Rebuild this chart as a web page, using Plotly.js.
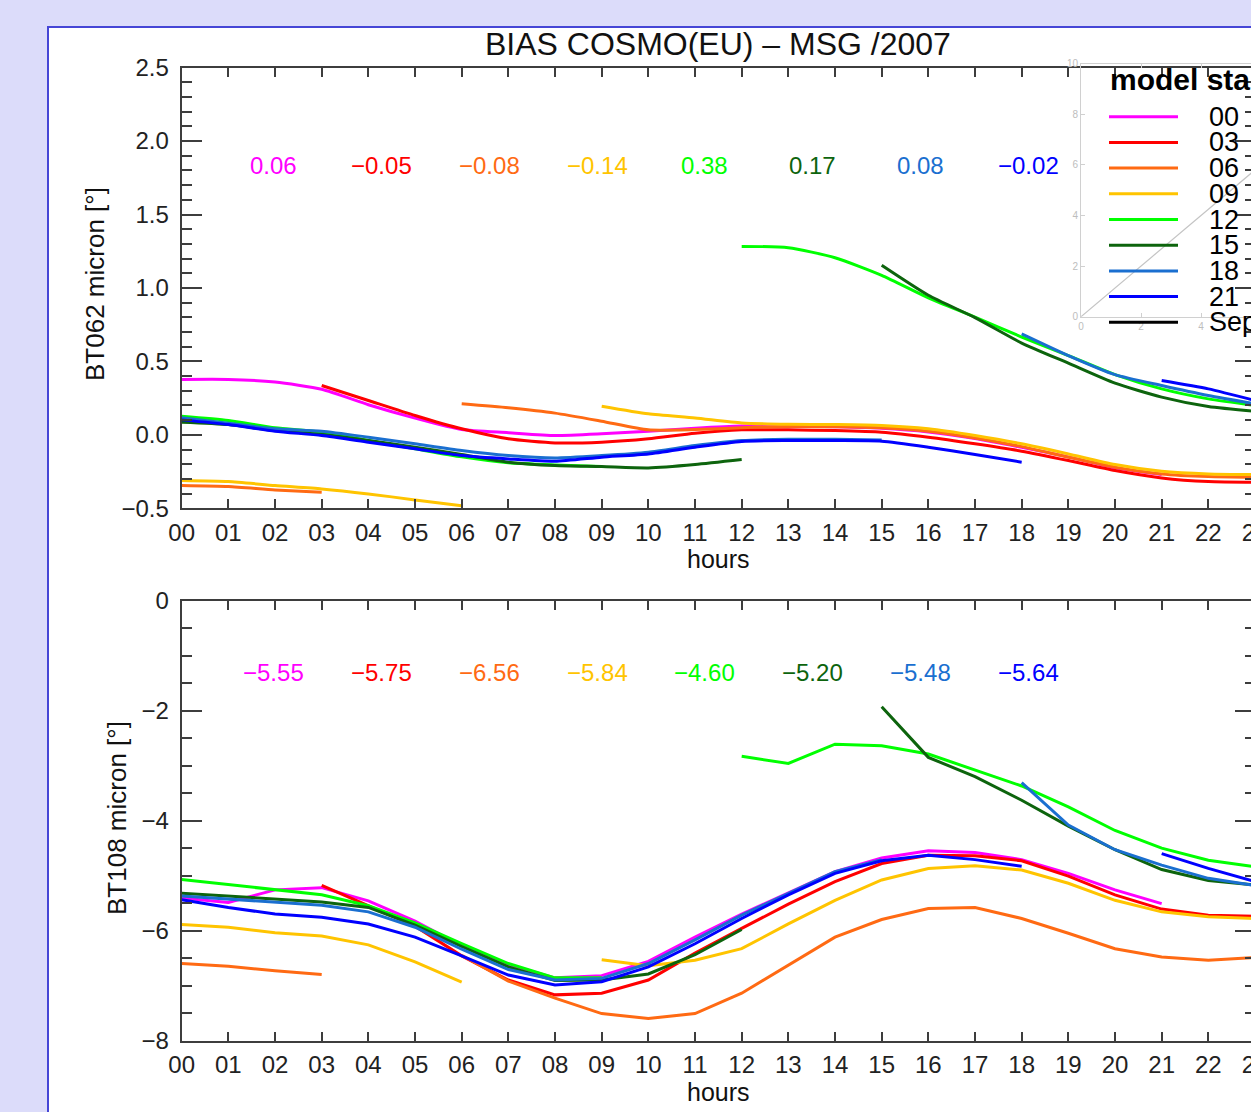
<!DOCTYPE html>
<html><head><meta charset="utf-8">
<script src="https://cdn.plot.ly/plotly-3.0.1.min.js"></script>
<style>
html,body{margin:0;padding:0;background:#dcdcfa;overflow:hidden;width:1251px;height:1112px;}
#frame{position:absolute;left:47px;top:26px;border:2px solid #4646d6;background:#fff;width:1400px;height:1150px;}
#chart{width:1400px;height:1150px;}
</style></head><body>
<div id="frame"><div id="chart"></div></div>
<script>
// ---------------- data ----------------
const hours = [0,1,2,3,4,5,6,7,8,9,10,11,12,13,14,15,16,17,18,19,20,21,22,23];
const hourLabels = ['00','01','02','03','04','05','06','07','08','09','10','11','12','13','14','15','16','17','18','19','20','21','22','23'];
const runNames = ['00','03','06','09','12','15','18','21'];
const runColors = ['#ff00ff','#ff0000','#ff6a13','#ffc400','#00ff00','#0d640d','#1a6fd0','#0000ff'];

// BT062 bias per model run (hour of day 00..23, null = no data)
const bt062_run00 = [0.377,0.377,0.359,0.31,0.205,0.114,0.036,0.015,-0.005,0.007,0.025,0.045,0.06,0.062,0.055,0.045,0.02,-0.025,-0.085,-0.15,-0.225,-0.27,null,null];
const bt062_run03 = [null,null,null,0.336,0.234,0.132,0.041,-0.027,-0.055,-0.05,-0.027,0.011,0.034,0.034,0.029,0.018,-0.016,-0.061,-0.111,-0.175,-0.243,-0.293,-0.318,-0.323];
const bt062_run06 = [-0.345,-0.352,-0.375,-0.391,null,null,0.211,0.184,0.148,0.093,0.034,0.036,0.048,0.057,0.055,0.048,0.025,-0.021,-0.08,-0.152,-0.22,-0.266,-0.284,-0.289];
const bt062_run09 = [-0.311,-0.318,-0.345,-0.368,-0.402,-0.443,-0.482,null,null,0.195,0.143,0.115,0.081,0.072,0.07,0.064,0.041,-0.005,-0.061,-0.13,-0.202,-0.248,-0.266,-0.27];
const bt062_run12 = [0.127,0.098,0.048,0.018,-0.039,-0.095,-0.15,-0.19,-0.205,-0.215,null,null,1.283,1.274,1.206,1.086,0.933,0.802,0.666,0.54,0.41,0.313,0.245,0.2];
const bt062_run15 = [0.086,0.07,0.029,0.002,-0.039,-0.084,-0.134,-0.186,-0.209,-0.216,-0.225,-0.202,-0.168,null,null,1.154,0.95,0.798,0.625,0.488,0.352,0.257,0.193,0.161];
const bt062_run18 = [0.116,0.079,0.041,0.025,-0.016,-0.061,-0.107,-0.141,-0.157,-0.141,-0.118,-0.073,-0.039,-0.03,-0.03,-0.035,null,null,0.688,0.54,0.41,0.336,0.268,0.211];
const bt062_run21 = [0.102,0.07,0.025,-0.005,-0.05,-0.095,-0.141,-0.164,-0.18,-0.152,-0.13,-0.084,-0.045,-0.039,-0.039,-0.043,-0.084,-0.134,-0.186,null,null,0.37,0.313,0.234];

// BT108 bias per model run
const bt108_run00 = [-5.41,-5.49,-5.26,-5.22,-5.46,-5.83,-6.28,-6.62,-6.86,-6.82,-6.56,-6.12,-5.70,-5.32,-4.93,-4.68,-4.55,-4.58,-4.71,-4.96,-5.26,-5.51,null,null];
const bt108_run03 = [null,null,null,-5.18,-5.55,-5.92,-6.46,-6.90,-7.17,-7.14,-6.90,-6.41,-5.96,-5.52,-5.11,-4.78,-4.63,-4.64,-4.73,-5.01,-5.35,-5.61,-5.72,-5.74];
const bt108_run06 = [-6.60,-6.65,-6.73,-6.80,null,null,-6.45,-6.92,-7.23,-7.51,-7.60,-7.51,-7.14,-6.63,-6.12,-5.80,-5.60,-5.58,-5.78,-6.05,-6.33,-6.48,-6.54,-6.49];
const bt108_run09 = [-5.89,-5.94,-6.04,-6.10,-6.26,-6.57,-6.94,null,null,-6.53,-6.64,-6.54,-6.33,-5.88,-5.45,-5.08,-4.87,-4.82,-4.90,-5.14,-5.45,-5.66,-5.75,-5.78];
const bt108_run12 = [-5.07,-5.16,-5.26,-5.35,-5.55,-5.86,-6.24,-6.60,-6.86,-6.86,null,null,-2.83,-2.96,-2.61,-2.64,-2.79,-3.08,-3.37,-3.75,-4.18,-4.50,-4.72,-4.84];
const bt108_run15 = [-5.32,-5.37,-5.42,-5.48,-5.58,-5.90,-6.29,-6.66,-6.91,-6.90,-6.79,-6.44,-5.98,null,null,-1.93,-2.85,-3.20,-3.63,-4.10,-4.53,-4.89,-5.09,-5.17];
const bt108_run18 = [-5.37,-5.43,-5.48,-5.54,-5.66,-5.94,-6.34,-6.71,-6.90,-6.87,-6.60,-6.17,-5.72,-5.32,-4.93,-4.71,null,null,-3.31,-4.08,-4.53,-4.81,-5.05,-5.18];
const bt108_run21 = [-5.44,-5.58,-5.70,-5.76,-5.88,-6.12,-6.46,-6.81,-6.99,-6.93,-6.66,-6.24,-5.78,-5.35,-4.96,-4.73,-4.63,-4.71,-4.83,null,null,-4.60,-4.87,-5.11];

// mean bias printed above each panel
const meanBT062 = [0.06,-0.05,-0.08,-0.14,0.38,0.17,0.08,-0.02];
const meanBT108 = [-5.55,-5.75,-6.56,-5.84,-4.60,-5.20,-5.48,-5.64];

// legend
const legendLabels = ['00','03','06','09','12','15','18','21','Sep'];
const legendColors = runColors.concat(['#000000']);

// faint inset plot behind the legend
const insetX = [0,10];
const insetY = [0,10];

// ---------------- layout helpers ----------------
const W=1400, H=1150, OX=49, OY=28;
const px = x => (x-OX)/W;
const py = y => 1-(y-OY)/H;
const FONT = 'Liberation Sans, Arial, Helvetica, sans-serif';
const AX = '#3d3d3d';

const bt062 = [bt062_run00,bt062_run03,bt062_run06,bt062_run09,bt062_run12,bt062_run15,bt062_run18,bt062_run21];
const bt108 = [bt108_run00,bt108_run03,bt108_run06,bt108_run09,bt108_run12,bt108_run15,bt108_run18,bt108_run21];

const traces = [];
runNames.forEach((r,i)=>{
  traces.push({x:hours,y:bt062[i],xaxis:'x',yaxis:'y',mode:'lines',name:r,showlegend:false,connectgaps:false,
    line:{color:runColors[i],width:3,shape:'spline',smoothing:0.6}});
});
runNames.forEach((r,i)=>{
  traces.push({x:hours,y:bt108[i],xaxis:'x2',yaxis:'y2',mode:'lines',name:r,showlegend:false,connectgaps:false,
    line:{color:runColors[i],width:3}});
});
traces.push({x:insetX,y:insetY,xaxis:'x3',yaxis:'y3',mode:'lines',showlegend:false,line:{color:'#c4c4c4',width:1.2}});

const base = {showline:true,linecolor:AX,linewidth:2,mirror:'ticks',ticks:'inside',tickcolor:AX,tickwidth:2,
  showgrid:false,zeroline:false,tickfont:{family:FONT,size:24,color:'#222'}};
const xdom = [px(181.7),px(1255)];

const xaxisCfg = a => Object.assign({},base,{domain:xdom,range:[0,23],tickmode:'array',tickvals:hours,ticktext:hourLabels,ticklen:9,anchor:a,ticklabelstandoff:2});

const layout = {
  width:W,height:H,margin:{l:0,r:0,t:0,b:0},paper_bgcolor:'#ffffff',plot_bgcolor:'rgba(0,0,0,0)',
  showlegend:false,font:{family:FONT,color:'#111'},
  xaxis:xaxisCfg('y'),
  yaxis:Object.assign({},base,{domain:[py(508.3),py(67.6)],range:[-0.5,2.5],tick0:0,dtick:0.5,tickformat:'.1f',ticklen:20,anchor:'x',ticklabelstandoff:6,
    minor:{dtick:0.1,ticklen:10,tickcolor:AX,tickwidth:2,ticks:'inside',showgrid:false}}),
  xaxis2:xaxisCfg('y2'),
  yaxis2:Object.assign({},base,{domain:[py(1040.5),py(600.7)],range:[-8,0],tick0:0,dtick:2,ticklen:20,anchor:'x2',ticklabelstandoff:6,
    minor:{dtick:0.5,ticklen:10,tickcolor:AX,tickwidth:2,ticks:'inside',showgrid:false}}),
  xaxis3:{domain:[px(1081),px(1381)],range:[0,10],anchor:'y3',showline:true,linecolor:'#d0d0d0',linewidth:1,mirror:'ticks',
    ticks:'inside',ticklen:4,tickcolor:'#d0d0d0',dtick:2,showgrid:false,zeroline:false,tickfont:{family:FONT,size:10,color:'#bdbdbd'}},
  yaxis3:{domain:[py(316.7),py(63.7)],range:[0,10],anchor:'x3',showline:true,linecolor:'#d0d0d0',linewidth:1,mirror:'ticks',
    ticks:'inside',ticklen:4,tickcolor:'#d0d0d0',dtick:2,showgrid:false,zeroline:false,tickfont:{family:FONT,size:10,color:'#bdbdbd'}},
  shapes:[],annotations:[]
};

const fmt = v => (v<0?'\u2212':'')+Math.abs(v).toFixed(2);
meanBT062.forEach((v,i)=>{
  layout.annotations.push({xref:'x',yref:'y',x:1.97+2.31*i,y:1.836,text:fmt(v),showarrow:false,xanchor:'center',yanchor:'middle',
    font:{family:FONT,size:24,color:runColors[i]}});
});
meanBT108.forEach((v,i)=>{
  layout.annotations.push({xref:'x2',yref:'y2',x:1.97+2.31*i,y:-1.30,text:fmt(v),showarrow:false,xanchor:'center',yanchor:'middle',
    font:{family:FONT,size:24,color:runColors[i]}});
});

const midX = (xdom[0]+xdom[1])/2;
const titleAnn = (text,x,y,size,angle)=>({xref:'paper',yref:'paper',x:x,y:y,text:text,showarrow:false,xanchor:'center',yanchor:'middle',
  textangle:angle||0,font:{family:FONT,size:size,color:'#111'}});
layout.annotations.push(titleAnn('BIAS COSMO(EU) \u2013 MSG /2007',midX,py(44),32));
layout.annotations.push(titleAnn('hours',midX,py(559),25));
layout.annotations.push(titleAnn('hours',midX,py(1092),25));
layout.annotations.push(titleAnn('BT062 micron [\u00b0]',px(95),py(284),26,-90));
layout.annotations.push(titleAnn('BT108 micron [\u00b0]',px(117),py(818),26,-90));

// legend
layout.annotations.push({xref:'paper',yref:'paper',x:px(1108),y:py(79),text:'<b>model start</b>',showarrow:false,xanchor:'left',yanchor:'middle',
  font:{family:FONT,size:30,color:'#000'}});
legendLabels.forEach((lab,i)=>{
  const yc = 116.7+25.7*i;
  layout.shapes.push({type:'line',xref:'paper',yref:'paper',x0:px(1109),x1:px(1178),y0:py(yc),y1:py(yc),line:{color:legendColors[i],width:3}});
  layout.annotations.push({xref:'paper',yref:'paper',x:px(1207),y:py(yc),text:lab,showarrow:false,xanchor:'left',yanchor:'middle',
    font:{family:FONT,size:27,color:'#000'}});
});

Plotly.newPlot('chart',traces,layout,{staticPlot:true,displayModeBar:false});
</script>
</body></html>
